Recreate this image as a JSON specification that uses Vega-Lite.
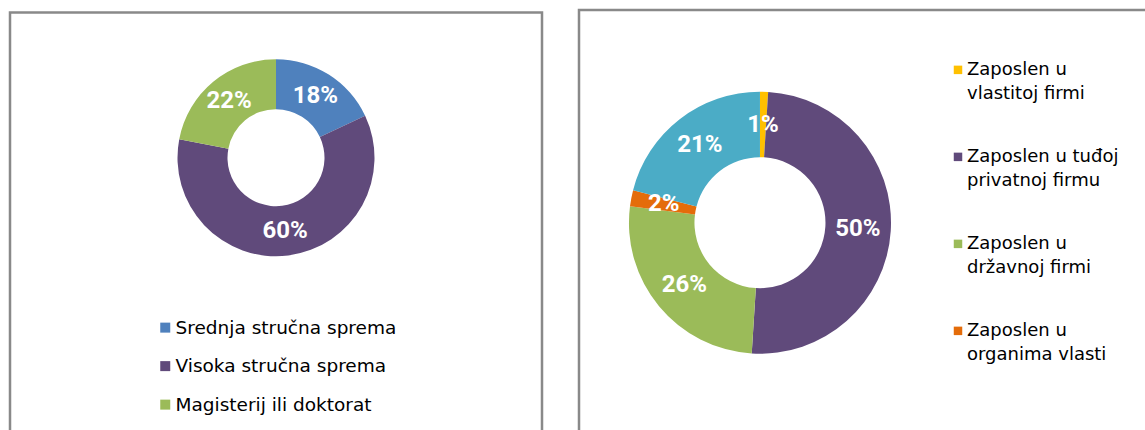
{
  "$schema": "https://vega.github.io/schema/vega-lite/v6.json",
  "padding": {"left": 8, "top": 8.5, "right": 0, "bottom": 0},
  "background": "white",
  "spacing": 33,
  "center": true,
  "config": {
    "view": {"stroke": "#898989", "strokeWidth": 2.5},
    "font": "DejaVu Sans",
    "legend": {"title": null, "symbolType": "square", "symbolStrokeWidth": 0, "symbolOpacity": 1, "labelColor": "#000000", "labelFont": "DejaVu Sans", "padding": 0, "labelLimit": 400}
  },
  "resolve": {"scale": {"color": "independent"}, "legend": {"color": "independent"}},
  "hconcat": [
    {
      "width": 532,
      "height": 425,
      "data": {"values": [
        {"kategorija": "Srednja stručna sprema", "udio": 0.18, "red": 1},
        {"kategorija": "Visoka stručna sprema", "udio": 0.60, "red": 2},
        {"kategorija": "Magisterij ili doktorat", "udio": 0.22, "red": 3}
      ]},
      "encoding": {
        "theta": {"field": "udio", "type": "quantitative", "stack": true},
        "order": {"field": "red", "type": "quantitative"},
        "x": {"datum": 0.5, "type": "quantitative", "scale": {"domain": [0, 1]}, "axis": null},
        "y": {"datum": 0.658, "type": "quantitative", "scale": {"domain": [0, 1]}, "axis": null}
      },
      "layer": [
        {
          "mark": {"type": "arc", "innerRadius": 48.5, "outerRadius": 98.5},
          "encoding": {
            "color": {
              "field": "kategorija", "type": "nominal",
              "scale": {"domain": ["Srednja stručna sprema", "Visoka stručna sprema", "Magisterij ili doktorat"], "range": ["#4F81BD", "#604A7B", "#9BBB59"]},
              "legend": {"orient": "none", "legendX": 146, "legendY": 306, "labelFontSize": 18.5, "symbolSize": 100, "rowPadding": 19.5, "labelOffset": 1}
            }
          }
        },
        {
          "mark": {"type": "text", "radius": 73.5, "font": "Roboto", "fontWeight": "bold", "fontSize": 24, "fill": "white"},
          "encoding": {
            "detail": {"field": "kategorija", "type": "nominal"},
            "text": {"field": "udio", "type": "quantitative", "format": ".0%"}
          }
        }
      ]
    },
    {
      "width": 580,
      "height": 430,
      "data": {"values": [
        {"kategorija": "Zaposlen u vlastitoj firmi", "udio": 0.01, "red": 1},
        {"kategorija": "Zaposlen u tuđoj privatnoj firmu", "udio": 0.50, "red": 2},
        {"kategorija": "Zaposlen u državnoj firmi", "udio": 0.26, "red": 3},
        {"kategorija": "Zaposlen u organima vlasti", "udio": 0.02, "red": 4},
        {"kategorija": "Nezaposlen", "udio": 0.21, "red": 5}
      ]},
      "encoding": {
        "theta": {"field": "udio", "type": "quantitative", "stack": true},
        "order": {"field": "red", "type": "quantitative"},
        "x": {"datum": 0.312, "type": "quantitative", "scale": {"domain": [0, 1]}, "axis": null},
        "y": {"datum": 0.505, "type": "quantitative", "scale": {"domain": [0, 1]}, "axis": null}
      },
      "layer": [
        {
          "mark": {"type": "arc", "innerRadius": 65.5, "outerRadius": 131},
          "encoding": {
            "color": {
              "field": "kategorija", "type": "nominal",
              "scale": {"domain": ["Zaposlen u vlastitoj firmi", "Zaposlen u tuđoj privatnoj firmu", "Zaposlen u državnoj firmi", "Zaposlen u organima vlasti", "Nezaposlen"], "range": ["#FFC000", "#604A7B", "#9BBB59", "#E46C0A", "#4BACC6"]},
              "legend": {
                "orient": "none", "legendX": 370, "legendY": 51, "labelFontSize": 18, "symbolSize": 72, "rowPadding": 45, "labelOffset": 0,
                "values": ["Zaposlen u vlastitoj firmi", "Zaposlen u tuđoj privatnoj firmu", "Zaposlen u državnoj firmi", "Zaposlen u organima vlasti"],
                "labelExpr": "datum.label == 'Zaposlen u tuđoj privatnoj firmu' ? ['Zaposlen u tuđoj', 'privatnoj firmu'] : ['Zaposlen u', substring(datum.label, 11)]",
                "encode": {"labels": {"update": {"lineHeight": {"value": 24}}}}
              }
            }
          }
        },
        {
          "mark": {"type": "text", "radius": 98, "font": "Roboto", "fontWeight": "bold", "fontSize": 24, "fill": "white"},
          "encoding": {
            "detail": {"field": "kategorija", "type": "nominal"},
            "text": {"field": "udio", "type": "quantitative", "format": ".0%"}
          }
        }
      ]
    }
  ]
}
